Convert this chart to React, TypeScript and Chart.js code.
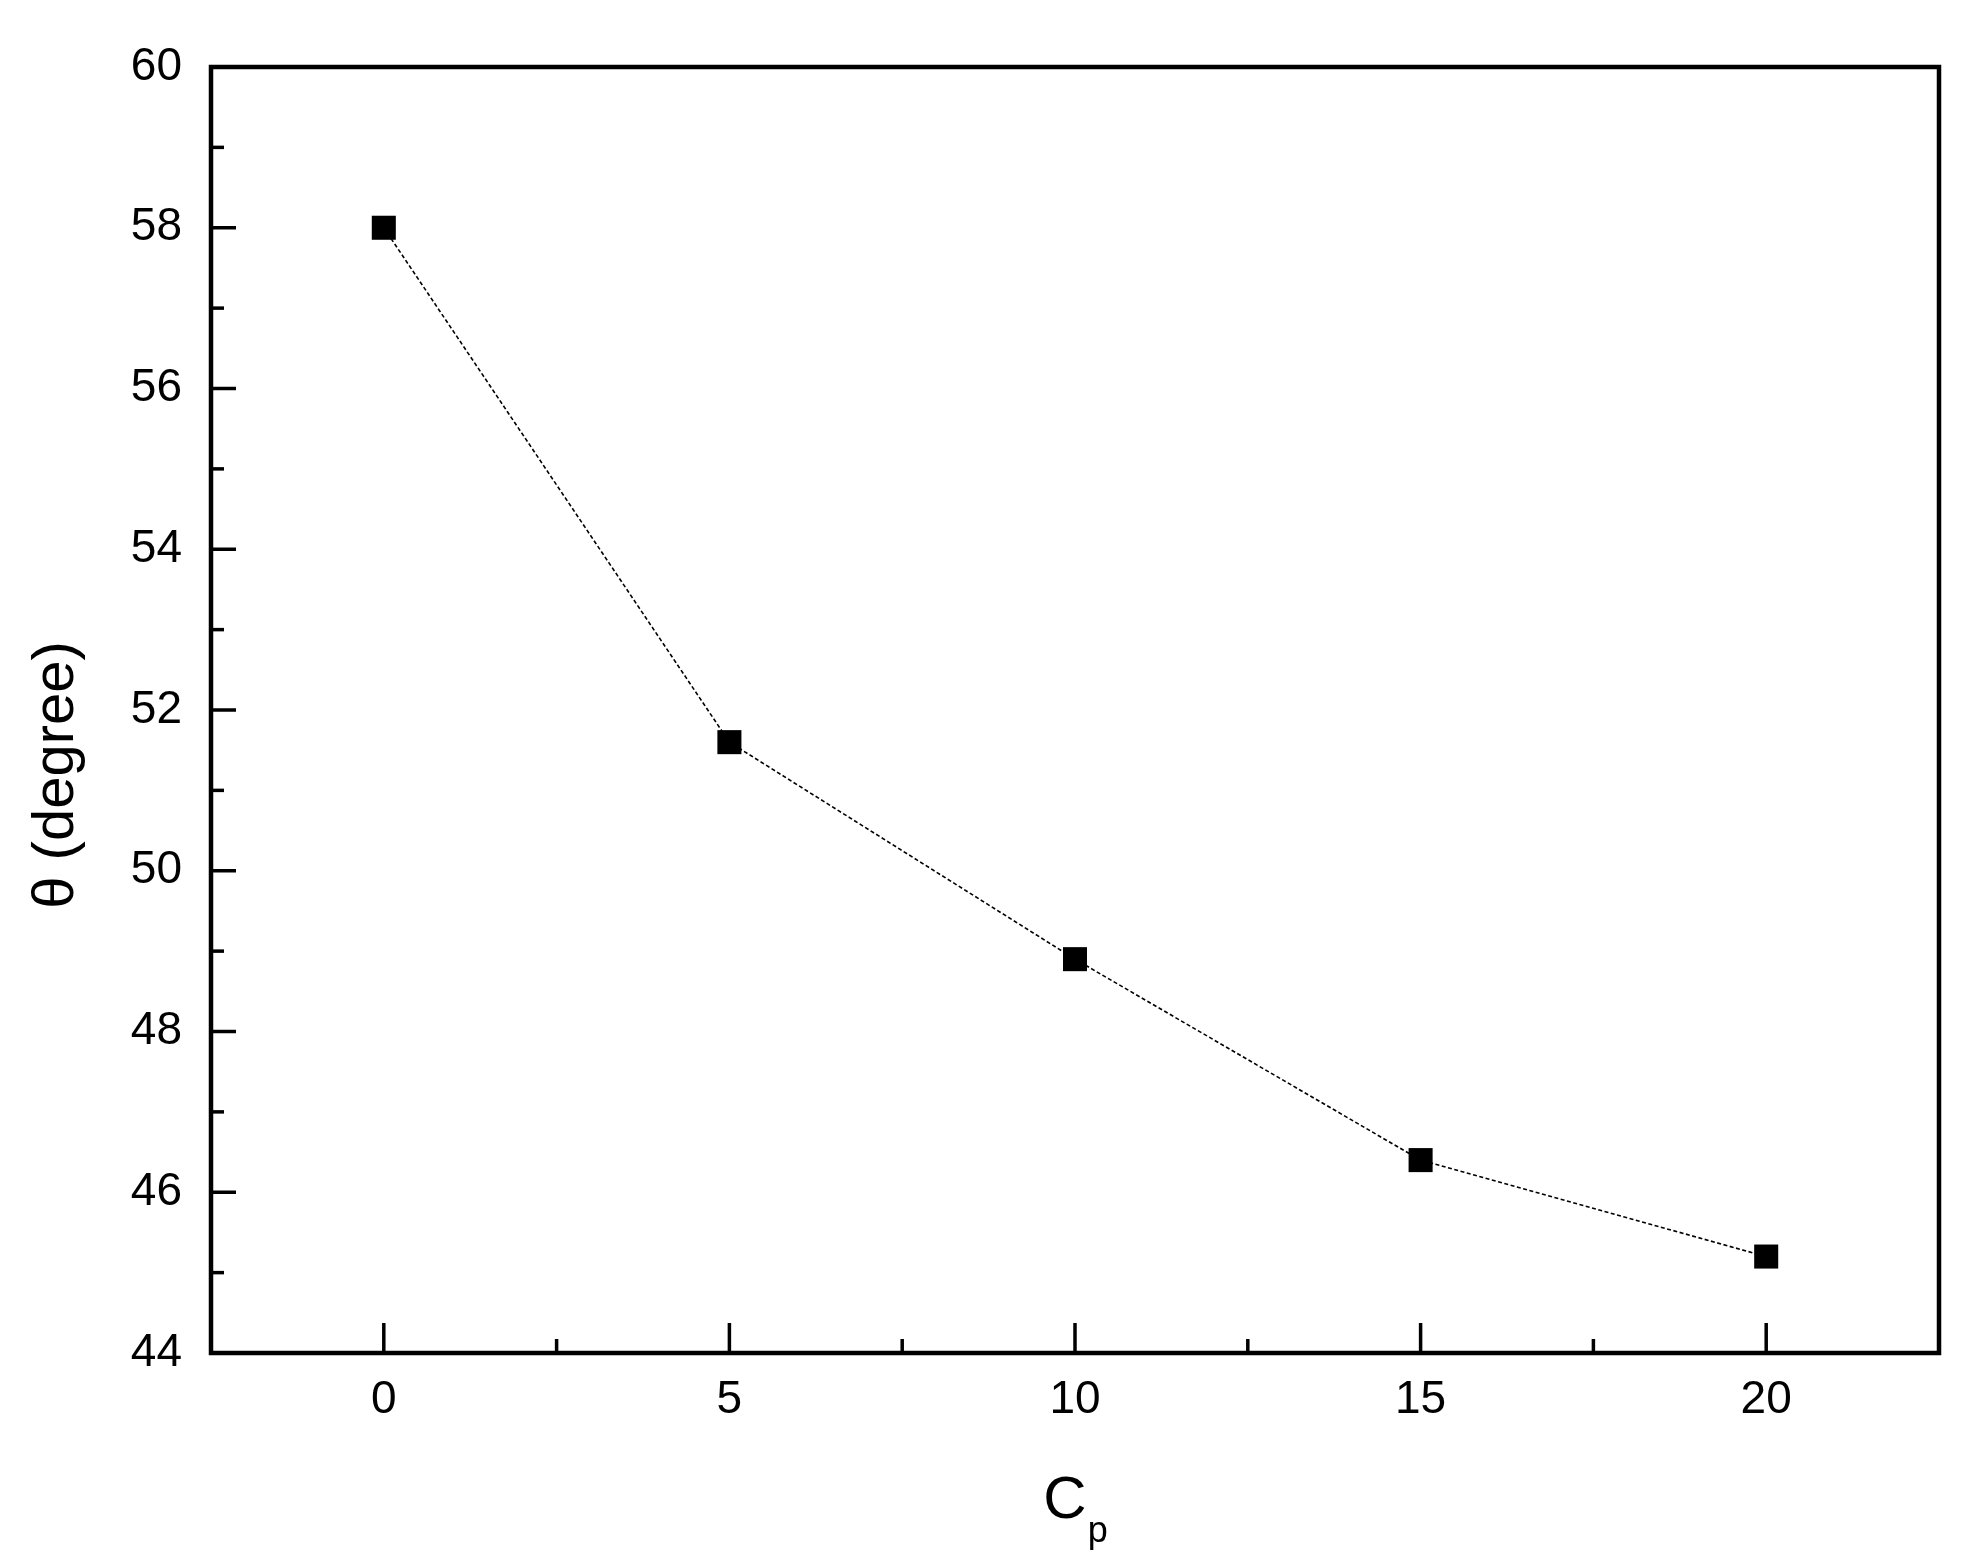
import React, { useEffect, useRef } from 'react';
import { Chart, registerables } from 'chart.js';

Chart.register(...registerables);

// ---- data ----
const cpValues = [0, 5, 10, 15, 20];
const thetaValues = [58.0, 51.6, 48.9, 46.4, 45.2];

// ---- ticks ----
const xMajorTicks = [0, 5, 10, 15, 20];
const xMinorTicks = [2.5, 7.5, 12.5, 17.5];
const yMajorTicks = [44, 46, 48, 50, 52, 54, 56, 58, 60];
const yMinorTicks = [45, 47, 49, 51, 53, 55, 57, 59];

// ---- text ----
const xTitleMain = 'C';
const xTitleSub = 'p';
const yTitle = 'θ (degree)';

const FONT = '"Liberation Sans", Arial, sans-serif';

const framePlugin = {
  id: 'frameAndTitles',
  afterDraw(chart: any) {
    const { ctx, chartArea: a, scales } = chart;
    const xs = scales.x;
    const ys = scales.y;
    ctx.save();
    ctx.strokeStyle = '#000';
    ctx.lineCap = 'butt';
    ctx.setLineDash([]);

    // inward ticks
    ctx.lineWidth = 3.5;
    const xTick = (v: number, len: number) => {
      const px = xs.getPixelForValue(v);
      ctx.beginPath();
      ctx.moveTo(px, a.bottom);
      ctx.lineTo(px, a.bottom - len);
      ctx.stroke();
    };
    const yTick = (v: number, len: number) => {
      const py = ys.getPixelForValue(v);
      ctx.beginPath();
      ctx.moveTo(a.left, py);
      ctx.lineTo(a.left + len, py);
      ctx.stroke();
    };
    xMajorTicks.forEach((v) => xTick(v, 30));
    xMinorTicks.forEach((v) => xTick(v, 14));
    yMajorTicks.forEach((v) => yTick(v, 25));
    yMinorTicks.forEach((v) => yTick(v, 13));

    // frame
    ctx.lineWidth = 4.5;
    ctx.strokeRect(a.left, a.top, a.right - a.left, a.bottom - a.top);

    // x title with subscript
    ctx.fillStyle = '#000';
    ctx.textBaseline = 'alphabetic';
    ctx.textAlign = 'left';
    const mainFont = `60px ${FONT}`;
    const subFont = `36px ${FONT}`;
    ctx.font = mainFont;
    const wMain = ctx.measureText(xTitleMain).width;
    ctx.font = subFont;
    const wSub = ctx.measureText(xTitleSub).width;
    const cx = (a.left + a.right) / 2;
    const startX = cx - (wMain + wSub) / 2;
    ctx.font = mainFont;
    ctx.fillText(xTitleMain, startX, a.bottom + 165);
    ctx.font = subFont;
    ctx.fillText(xTitleSub, startX + wMain + 1, a.bottom + 189);

    // y title
    ctx.save();
    ctx.translate(73, (a.top + a.bottom) / 2 + 65);
    ctx.rotate(-Math.PI / 2);
    ctx.textAlign = 'center';
    ctx.textBaseline = 'alphabetic';
    ctx.font = `58px ${FONT}`;
    ctx.fillText(yTitle, 0, 0);
    ctx.restore();

    ctx.restore();
  },
};

export default function App() {
  const canvasRef = useRef<HTMLCanvasElement | null>(null);

  useEffect(() => {
    const canvas = canvasRef.current;
    if (!canvas) return;
    const chart = new Chart(canvas, {
      type: 'line',
      data: {
        datasets: [
          {
            data: cpValues.map((x, i) => ({ x, y: thetaValues[i] })),
            borderColor: '#000',
            borderWidth: 1.6,
            borderDash: [4, 2.5],
            backgroundColor: '#000',
            pointStyle: 'rect',
            pointRadius: 17,
            pointBorderWidth: 0,
            pointBackgroundColor: '#000',
            fill: false,
            tension: 0,
          },
        ],
      },
      options: {
        animation: false,
        responsive: false,
        devicePixelRatio: 1,
        layout: { padding: { left: 0, top: 67, right: 31, bottom: 0 } },
        plugins: {
          legend: { display: false },
          tooltip: { enabled: false },
          title: { display: false },
        },
        scales: {
          x: {
            type: 'linear',
            min: -2.5,
            max: 22.5,
            grid: { display: false, drawTicks: false },
            border: { display: false },
            ticks: {
              color: '#000',
              font: { family: FONT, size: 46 },
              padding: 20,
              maxRotation: 0,
              autoSkip: false,
            },
            afterBuildTicks: (s: any) => {
              s.ticks = xMajorTicks.map((v) => ({ value: v }));
            },
            afterFit: (s: any) => {
              s.height = 210;
            },
          },
          y: {
            type: 'linear',
            min: 44,
            max: 60,
            grid: { display: false, drawTicks: false },
            border: { display: false },
            ticks: {
              color: '#000',
              font: { family: FONT, size: 46 },
              padding: 29,
              autoSkip: false,
            },
            afterBuildTicks: (s: any) => {
              s.ticks = yMajorTicks.map((v) => ({ value: v }));
            },
            afterFit: (s: any) => {
              s.width = 211;
            },
          },
        },
      },
      plugins: [framePlugin],
    } as any);
    return () => chart.destroy();
  }, []);

  return (
    <div
      style={{
        position: 'fixed',
        left: 0,
        top: 0,
        width: 1970,
        height: 1563,
        background: '#fff',
      }}
    >
      <canvas ref={canvasRef} width={1970} height={1563} style={{ display: 'block' }} />
    </div>
  );
}
